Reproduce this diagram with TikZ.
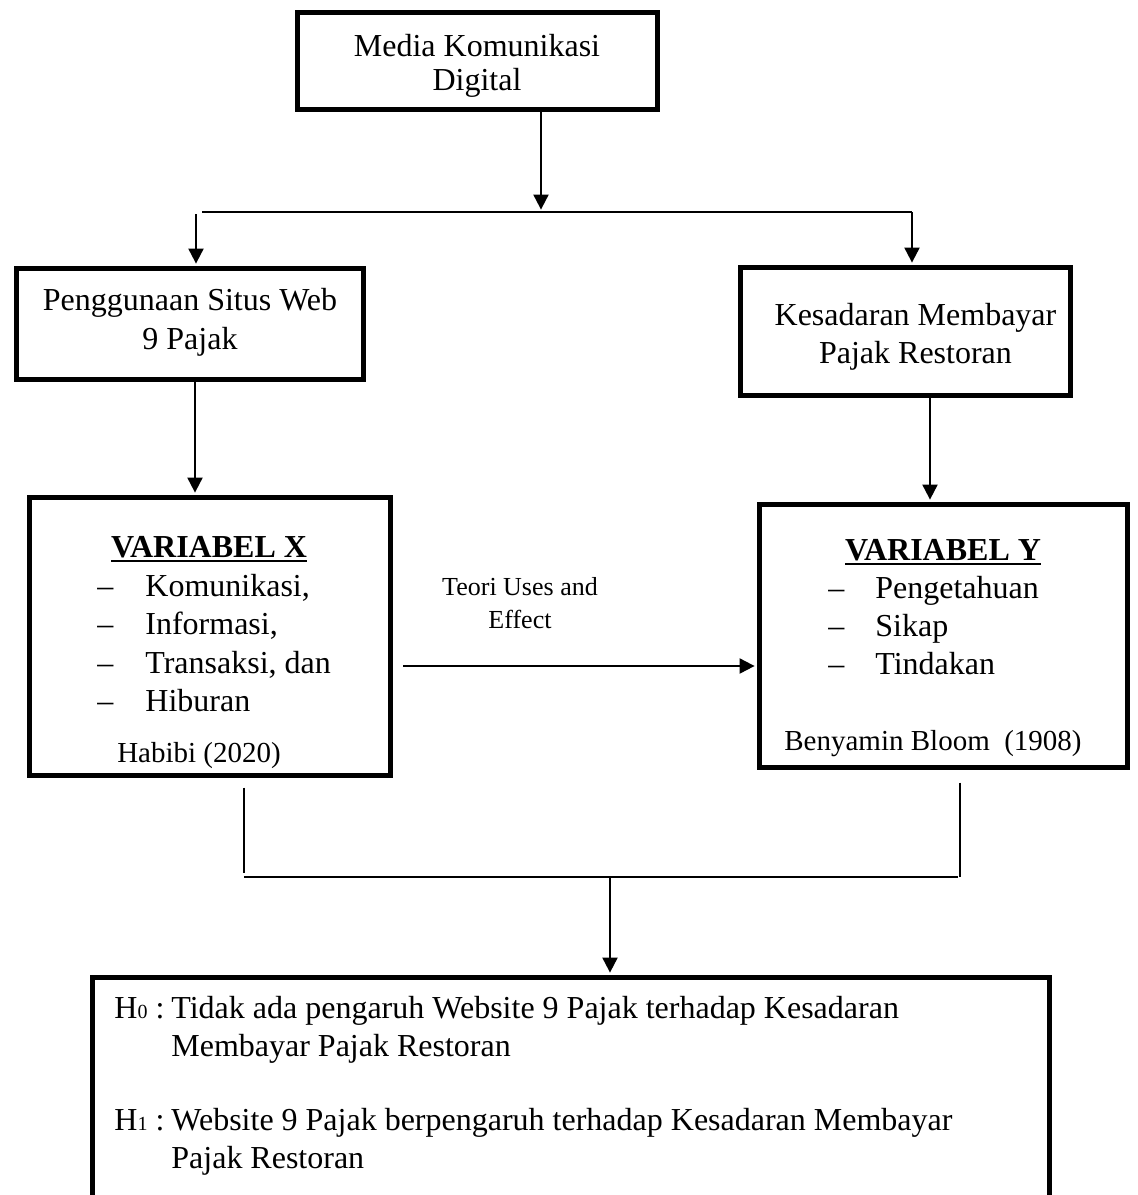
\documentclass[tikz,border=0pt]{standalone}
\usepackage{fontspec}
\setmainfont{Liberation Serif}
\usetikzlibrary{arrows.meta}
\newcommand\myul[1]{\setbox0\hbox{#1}\rlap{\raisebox{-2.6pt}{\rule{\wd0}{1.2pt}}}\box0}
\newcommand\hsub[1]{{\fontsize{10}{10}\selectfont #1}}
\begin{document}
\begin{tikzpicture}[x=0.5pt,y=-0.5pt,
  box/.style={draw, line width=2.5pt, inner sep=0pt},
  conn/.style={line width=1pt},
  arr/.style={conn, shorten >=1.2pt, -{Triangle[length=7.5pt,width=7.5pt]}},
  thinline/.style={line width=0.7pt},
  txt/.style={inner sep=0pt, align=center, font=\fontsize{16}{19}\selectfont},
  smalltxt/.style={inner sep=0pt, font=\fontsize{14.5}{17}\selectfont},
]
\useasboundingbox (0,0) rectangle (1138,1195);
\clip (0,0) rectangle (1138,1195);
\fill[white] (0,0) rectangle (1138,1195);

% top
\node[box, minimum width=180pt, minimum height=48.5pt] (mk) at (477,61) {};
\node[txt, font=\fontsize{16}{17}\selectfont] (mkt) at (477,66) {Media Komunikasi\\Digital};
\coordinate (j1) at (541,212);
\draw[arr] (mk.south -| j1) -- (j1);
\coordinate (hl) at (202,212);
\coordinate (hr) at (912,212);
\draw[conn] (hl) -- (hr);

% second row
\node[box, minimum width=173.5pt, minimum height=55.5pt] (pw) at (190,324) {};
\node[txt, font=\fontsize{16}{19.5}\selectfont] (pwt) at (190,322) {Penggunaan Situs Web\\9 Pajak};
\node[box, minimum width=165pt, minimum height=64pt] (kp) at (905.5,331.5) {};
\node[txt] (kpt) at (915.5,337) {Kesadaran Membayar\\Pajak Restoran};
\coordinate (la) at (196,214);
\draw[arr] (la) -- (la |- pw.north);
\draw[arr] (hr) -- (hr |- kp.north);

% variable boxes
\node[box, minimum width=180.5pt, minimum height=139pt] (vx) at (210,636.5) {};
\node[box, minimum width=184pt, minimum height=131.5pt] (vy) at (943.5,636) {};
\coordinate (a1) at (195,0);
\coordinate (a2) at (930,0);
\draw[arr] (pw.south -| a1) -- (vx.north -| a1);
\draw[arr] (kp.south -| a2) -- (vy.north -| a2);

% variable X content
\node[txt, anchor=base, font=\fontsize{16}{19}\bfseries] (vxt) at (209,557) {\myul{VARIABEL X}};
\node[txt, anchor=base west] (vxl) at (97,596) {\fontsize{16}{19.3}\selectfont\begin{tabular}[t]{@{}l@{}}
\makebox[24pt][l]{--}Komunikasi,\\
\makebox[24pt][l]{--}Informasi,\\
\makebox[24pt][l]{--}Transaksi, dan\\
\makebox[24pt][l]{--}Hiburan
\end{tabular}};
\node[smalltxt, anchor=base] (vxc) at (199,762) {Habibi (2020)};

% variable Y content
\node[txt, anchor=base, font=\fontsize{16}{19}\bfseries] (vyt) at (943,560) {\myul{VARIABEL Y}};
\node[txt, anchor=base west] (vyl) at (828,598) {\fontsize{16}{19.2}\selectfont\begin{tabular}[t]{@{}l@{}}
\makebox[23.5pt][l]{--}Pengetahuan\\
\makebox[23.5pt][l]{--}Sikap\\
\makebox[23.5pt][l]{--}Tindakan
\end{tabular}};
\node[smalltxt, anchor=base] (vyc) at (933,750) {Benyamin Bloom\ \ (1908)};

% theory arrow
\coordinate (ts) at (403,666);
\draw[arr] (ts) -- (ts -| vy.west);
\node[inner sep=0pt, align=center, font=\fontsize{13}{16.5}\selectfont] (teori) at (520,603) {Teori Uses and\\Effect};

% merge to hypotheses
\node[draw, line width=2.5pt, minimum width=478.5pt, minimum height=141.25pt, inner sep=0pt] (hb) at (571,1118.75) {};
\coordinate (bl) at (244,873);
\coordinate (br) at (960,877);
\coordinate (ml) at (244,877);
\coordinate (mr) at (958,877);
\coordinate (mc) at (610,877);
\draw[thinline] ([yshift=-4.75pt]vx.south -| bl) -- (bl);
\draw[thinline] ([yshift=-6.25pt]vy.south -| br) -- (br);
\draw[conn] (ml) -- (mr);
\draw[arr] (mc) -- (mc |- hb.north);

\node[txt, anchor=base west] (hyp) at (114,1018) {\begin{tabular}[t]{@{}l@{}l@{}}
\makebox[28.5pt][l]{H\hsub{0} :} & Tidak ada pengaruh Website 9 Pajak terhadap Kesadaran\\
 & Membayar Pajak Restoran\\[18pt]
\makebox[28.5pt][l]{H\hsub{1} :} & Website 9 Pajak berpengaruh terhadap Kesadaran Membayar\\
 & Pajak Restoran
\end{tabular}};
\end{tikzpicture}
\end{document}
